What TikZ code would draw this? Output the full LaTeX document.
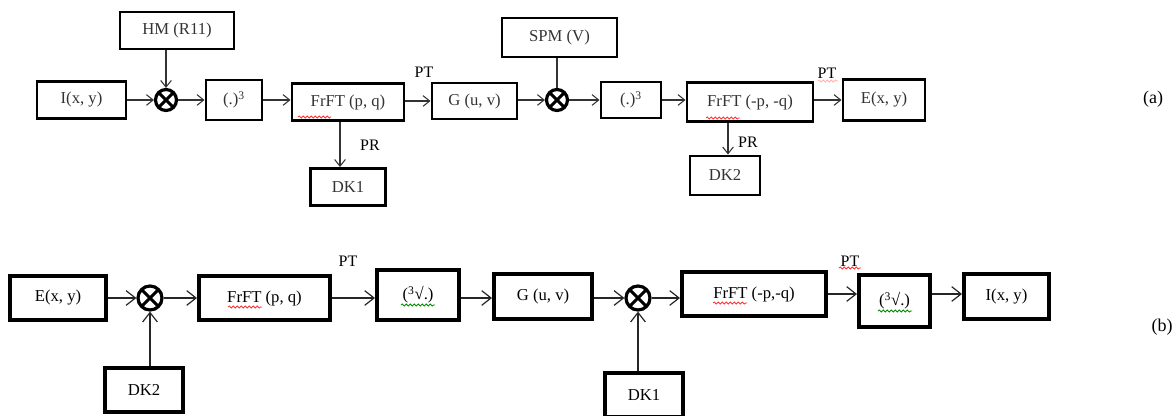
\documentclass[tikz,border=0pt]{standalone}
\usepackage{fontspec}
\setmainfont{Liberation Serif}
\usetikzlibrary{arrows.meta,decorations.pathmorphing}
\begin{document}
\begin{tikzpicture}[x=0.75pt,y=-0.75pt,
 wh/.style 2 args={minimum width=#1*0.75pt, minimum height=#2*0.75pt},
 boxa/.style={draw, line width=2.2pt, font=\fontsize{12.5}{14}\selectfont, text=black!80, inner sep=0pt},
 boxb/.style={draw, line width=3pt, font=\fontsize{12.5}{14}\selectfont, inner sep=0pt},
 arra/.style={draw=black!80, line width=0.8pt, -{Straight Barb[length=5pt,width=8pt]}},
 arrb/.style={draw=black!85, line width=0.9pt, -{Straight Barb[length=7pt,width=11pt]}},
 plain/.style={draw=black!80, line width=0.8pt},
 mult/.style={circle, draw, line width=2.4pt, minimum size=#1*0.75pt, inner sep=0pt,
   path picture={\draw[line width=2.2pt]
     (path picture bounding box.south west) -- (path picture bounding box.north east)
     (path picture bounding box.north west) -- (path picture bounding box.south east);}},
 lbla/.style={font=\fontsize{12}{13}\selectfont, inner sep=0pt},
 lblb/.style={font=\fontsize{12}{13}\selectfont, inner sep=0pt},
 tag/.style={font=\fontsize{13.5}{15}\selectfont, inner sep=0pt},
 wavy/.style={line width=0.6pt, decorate, decoration={snake, amplitude=0.8pt, segment length=3pt}}
]
\useasboundingbox (0,0) rectangle (1176,416);

% ---------- (a) ----------
\node[boxa, wh={114}{37}] (hm) at (177,30.5) {HM (R11)};
\node[boxa, wh={89}{37}] (i1) at (81.5,100) {I(x, y)};
\node[mult=21] (m1) at (166,100) {};
\node[boxa, wh={56}{40}] (c1) at (234,100) {(.)\textsuperscript{3}};
\node[boxa, wh={112}{37}] (f1) at (348,102) {FrFT (p, q)};
\node[boxa, wh={75}{37}] (dk1) at (348,187) {DK1};
\node[boxa, wh={85}{36}] (g1) at (474.5,101) {G (u, v)};
\node[boxa, wh={115}{39}] (spm) at (559.5,37.5) {SPM (V)};
\node[mult=21] (m2) at (557,100) {};
\node[boxa, wh={60}{36}] (c2) at (631,100) {(.)\textsuperscript{3}};
\node[boxa, wh={126}{39}] (f2) at (750,102) {FrFT (-p, -q)};
\node[boxa, wh={70}{39}] (dk2) at (725,175.5) {DK2};
\node[boxa, wh={82}{41}] (e1) at (884,100) {E(x, y)};

\draw[arra] (i1) -- (m1);
\draw[arra] (hm.south -| m1) -- (m1);
\draw[arra] (m1) -- (c1);
\draw[arra] (c1) -- (f1.west |- c1);
\draw[arra] (f1.east |- g1) -- (g1);
\draw[arra] (g1.east |- m2) -- (m2);
\draw[plain] (spm.south -| m2) -- (m2);
\draw[arra] (m2) -- (c2);
\draw[arra] (c2) -- (f2.west |- c2);
\draw[arra] (f2.east |- e1) -- (e1);
\coordinate (a1) at (340,0);
\coordinate (a2) at (728,0);
\draw[arra] (f1.south -| a1) -- (dk1.north -| a1);
\draw[arra] (f2.south -| a2) -- (dk2.north -| a2);

\node[lbla] (pt1) at (424,72) {PT};
\node[lbla] (pt2) at (827,73) {PT};
\node[lbla] (pr1) at (370,145) {PR};
\node[lbla] (pr2) at (748,142) {PR};
\node[tag] (ta) at (1153,99) {(a)};

% ---------- (b) ----------
\node[boxb, wh={96}{44}] (e2) at (58,298) {E(x, y)};
\node[mult=24] (m3) at (150,298) {};
\node[boxb, wh={131}{44}] (f3) at (264.5,298) {FrFT (p, q)};
\node[boxb, wh={82}{49}] (r1) at (418,295) {(\textsuperscript{3}√.)};
\node[boxb, wh={98}{45}] (g2) at (543,296.5) {G (u, v)};
\node[mult=24] (m4) at (638,298) {};
\node[boxb, wh={144}{44}] (f4) at (754,294) {FrFT (-p,-q)};
\node[boxb, wh={71}{51}] (r2) at (894.5,301) {(\textsuperscript{3}√.)};
\node[boxb, wh={85}{45}] (i2) at (1006.5,296.5) {I(x, y)};
\node[boxb, wh={78}{44}] (dk2b) at (144,390) {DK2};
\node[boxb, wh={78}{44}] (dk1b) at (644,395) {DK1};

\draw[arrb] (e2.east |- m3) -- (m3);
\draw[arrb] (dk2b.north -| m3) -- (m3);
\draw[arrb] (m3) -- (f3.west |- m3);
\draw[arrb] (f3.east |- m3) -- (r1.west |- m3);
\draw[arrb] (r1.east |- m3) -- (g2.west |- m3);
\draw[arrb] (g2.east |- m4) -- (m4);
\draw[arrb] (dk1b.north -| m4) -- (m4);
\draw[arrb] (m4) -- (f4.west |- m4);
\draw[arrb] (f4.east |- 0,294) -- (r2.west |- 0,294);
\draw[arrb] (r2.east |- 0,294) -- (i2.west |- 0,294);

\node[lblb] (pt3) at (348,261) {PT};
\node[lblb] (pt4) at (850,261) {PT};
\node[tag] (tb) at (1162,327) {(b)};

% spell-check underlines
\draw[wavy, red!80] (298,117) -- (331,117);
\draw[wavy, red!80] (706,118) -- (740,118);
\draw[wavy, red!30] (818,81) -- (838,81);
\draw[wavy, red!80] (228,307) -- (262,307);
\draw[wavy, red!80] (713,303) -- (747,303);
\draw[wavy, red!80] (839,268) -- (861,268);
\draw[wavy, green!55!black] (401,305) -- (435,305);
\draw[wavy, green!55!black] (878,311) -- (912,311);
\end{tikzpicture}
\end{document}
